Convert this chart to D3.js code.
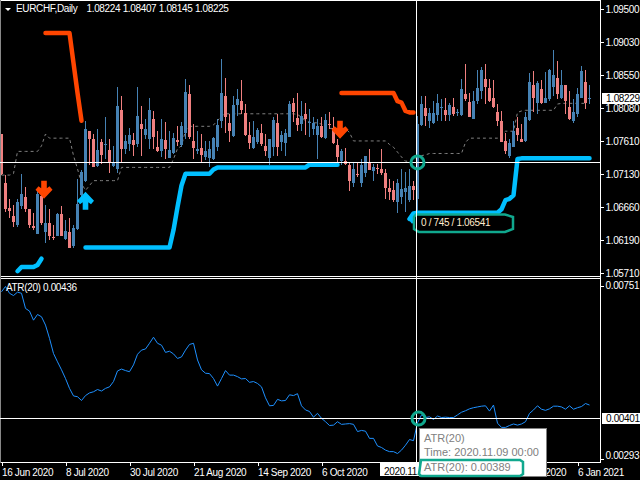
<!DOCTYPE html>
<html><head><meta charset="utf-8">
<script src="https://cdn.jsdelivr.net/npm/d3@7/dist/d3.min.js"></script>
<style>
html,body{margin:0;padding:0;background:#000;overflow:hidden}
svg{display:block}
text{font-family:"Liberation Sans",Arial,sans-serif;font-size:10px;letter-spacing:-0.35px;fill:#fff}
</style></head><body>
<script>
const symbolName="EURCHF,Daily";
const ohlcLegend="1.08224 1.08407 1.08145 1.08225";
const atrLegend="ATR(20) 0.00436";
const highs=[1.0771,1.0712,1.0678,1.0669,1.0678,1.0713,1.0695,1.0664,1.0657,1.0690,
1.0683,1.0669,1.0664,1.0640,1.0657,1.0668,1.0648,1.0650,1.0640,1.0707,
1.0719,1.0790,1.0776,1.0771,1.0778,1.0764,1.0795,1.0764,1.0754,1.0839,
1.0826,1.0769,1.0780,1.0773,1.0839,1.0811,1.0792,1.0822,1.0804,1.0776,
1.0792,1.0788,1.0776,1.0773,1.0783,1.0788,1.0850,1.0841,1.0785,1.0776,
1.0771,1.0761,1.0761,1.0766,1.0792,1.0878,1.0852,1.0799,1.0826,1.0836,
1.0848,1.0814,1.0788,1.0790,1.0780,1.0785,1.0771,1.0764,1.0796,1.0799,
1.0776,1.0778,1.0818,1.0822,1.0830,1.0818,1.0816,1.0807,1.0795,1.0793,
1.0795,1.0799,1.0802,1.0795,1.0764,1.0750,1.0751,1.0731,1.0731,1.0731,
1.0735,1.0740,1.0750,1.0728,1.0728,1.0750,1.0721,1.0707,1.0704,1.0707,
1.0721,1.0716,1.0721,1.0703,1.0797,1.0825,1.0826,1.0809,1.0818,1.0828,
1.0821,1.0823,1.0816,1.0823,1.0807,1.0850,1.0872,1.0830,1.0833,1.0863,
1.0867,1.0872,1.0850,1.0849,1.0814,1.0804,1.0773,1.0764,1.0790,1.0795,
1.0785,1.0802,1.0859,1.0861,1.0847,1.0849,1.0860,1.0864,1.0892,1.0876,
1.0863,1.0842,1.0833,1.0821,1.0837,1.0869,1.0863,1.08407];
const opens=[1.0771,1.0701,1.0665,1.0653,1.0641,1.0668,1.0680,1.0664,1.0639,1.0627,
1.0682,1.0630,1.0643,1.0623,1.0624,1.0656,1.0620,1.0630,1.0610,1.0634,
1.0683,1.0704,1.0775,1.0764,1.0725,1.0760,1.0756,1.0748,1.0725,1.0721,
1.0806,1.0750,1.0756,1.0762,1.0756,1.0785,1.0770,1.0764,1.0793,1.0752,
1.0746,1.0762,1.0737,1.0744,1.0763,1.0755,1.0773,1.0829,1.0761,1.0747,
1.0751,1.0738,1.0736,1.0735,1.0752,1.0790,1.0825,1.0787,1.0768,1.0812,
1.0819,1.0801,1.0770,1.0751,1.0759,1.0772,1.0754,1.0736,1.0752,1.0787,
1.0759,1.0758,1.0767,1.0815,1.0794,1.0785,1.0800,1.0787,1.0778,1.0770,
1.0783,1.0765,1.0785,1.0780,1.0755,1.0732,1.0732,1.0727,1.0701,1.0714,
1.0701,1.0715,1.0731,1.0718,1.0722,1.0721,1.0715,1.0694,1.0690,1.0673,
1.0681,1.0688,1.0676,1.0696,1.0678,1.0784,1.0809,1.0789,1.0787,1.0798,
1.0809,1.0805,1.0798,1.0810,1.0802,1.0798,1.0829,1.0817,1.0793,1.0819,
1.0833,1.0850,1.0837,1.0822,1.0803,1.0790,1.0761,1.0740,1.0753,1.0779,
1.0764,1.0761,1.0791,1.0842,1.0815,1.0835,1.0816,1.0821,1.0839,1.0852,
1.0822,1.0841,1.0810,1.0789,1.0799,1.0823,1.0846,1.08224];
const closes=[1.0714,1.0664,1.0661,1.0644,1.0673,1.0685,1.0664,1.0640,1.0636,1.0685,
1.0643,1.0643,1.0624,1.0621,1.0656,1.0625,1.0632,1.0608,1.0636,1.0670,
1.0717,1.0778,1.0764,1.0724,1.0748,1.0741,1.0757,1.0730,1.0731,1.0811,
1.0750,1.0761,1.0769,1.0755,1.0797,1.0778,1.0778,1.0805,1.0766,1.0746,
1.0764,1.0749,1.0748,1.0765,1.0760,1.0783,1.0831,1.0766,1.0751,1.0750,
1.0741,1.0747,1.0749,1.0765,1.0784,1.0830,1.0796,1.0776,1.0812,1.0821,
1.0805,1.0769,1.0758,1.0767,1.0777,1.0756,1.0746,1.0764,1.0791,1.0752,
1.0770,1.0772,1.0814,1.0802,1.0784,1.0797,1.0792,1.0788,1.0787,1.0782,
1.0766,1.0791,1.0784,1.0758,1.0738,1.0746,1.0728,1.0704,1.0721,1.0713,
1.0726,1.0739,1.0720,1.0723,1.0721,1.0715,1.0693,1.0687,1.0676,1.0701,
1.0692,1.0694,1.0696,1.0690,1.0785,1.0814,1.0797,1.0801,1.0801,1.0816,
1.0810,1.0798,1.0812,1.0799,1.0803,1.0836,1.0821,1.0796,1.0818,1.0837,
1.0863,1.0838,1.0818,1.0810,1.0789,1.0760,1.0746,1.0758,1.0775,1.0770,
1.0760,1.0796,1.0846,1.0822,1.0844,1.0815,1.0823,1.0863,1.0855,1.0828,
1.0841,1.0819,1.0792,1.0802,1.0829,1.0862,1.0816,1.08225];
const lows=[1.0712,1.0659,1.0650,1.0637,1.0638,1.0664,1.0659,1.0636,1.0633,1.0627,
1.0640,1.0614,1.0619,1.0619,1.0624,1.0624,1.0619,1.0608,1.0608,1.0633,
1.0674,1.0702,1.0726,1.0723,1.0723,1.0728,1.0735,1.0715,1.0723,1.0715,
1.0731,1.0742,1.0747,1.0740,1.0752,1.0740,1.0764,1.0750,1.0750,1.0745,
1.0738,1.0735,1.0737,1.0742,1.0754,1.0752,1.0764,1.0764,1.0735,1.0742,
1.0731,1.0733,1.0723,1.0734,1.0747,1.0780,1.0773,1.0760,1.0766,1.0797,
1.0799,1.0768,1.0750,1.0750,1.0757,1.0754,1.0740,1.0726,1.0740,1.0740,
1.0747,1.0740,1.0766,1.0788,1.0776,1.0776,1.0769,1.0766,1.0769,1.0735,
1.0765,1.0764,1.0778,1.0757,1.0731,1.0726,1.0726,1.0689,1.0695,1.0709,
1.0695,1.0709,1.0719,1.0703,1.0714,1.0712,1.0678,1.0676,1.0674,1.0657,
1.0670,1.0659,1.0674,1.0676,1.06541,1.0783,1.0783,1.0780,1.0785,1.0789,
1.0790,1.0790,1.0790,1.0797,1.0797,1.0797,1.0818,1.0795,1.0792,1.0814,
1.0821,1.0814,1.0817,1.0809,1.0782,1.0759,1.0742,1.0736,1.0752,1.0761,
1.0759,1.0759,1.0790,1.0802,1.0799,1.0814,1.0815,1.0818,1.0826,1.0821,
1.0821,1.0799,1.0791,1.0787,1.0796,1.0822,1.0807,1.08145];
const dashedLine=[1.0712,1.0712,1.0712,1.0714,1.0746,1.0746,1.0746,1.0746,1.0746,1.0746,
1.0754,1.0771,1.0765,1.0765,1.0765,1.0765,1.0765,1.0765,1.0740,1.0721,
1.0700,1.0690,1.0697,1.0704,1.0704,1.0704,1.0704,1.0704,1.0704,1.0704,
1.0723,1.0723,1.0723,1.0723,1.0723,1.0723,1.0723,1.0723,1.0723,1.0723,
1.0723,1.0723,1.0723,1.0735,1.0750,1.0754,1.0776,1.0782,1.0782,1.0782,
1.0782,1.0782,1.0782,1.0784,1.0790,1.0797,1.0800,1.0800,1.0800,1.0800,
1.0800,1.0800,1.0800,1.0800,1.0800,1.0800,1.0800,1.0800,1.0800,1.0800,
1.0800,1.0800,1.0800,1.0800,1.0799,1.0795,1.0790,1.0788,1.0787,1.0787,
1.0785,1.0779,1.0779,1.0779,1.0779,1.0779,1.0779,1.0773,1.0761,1.0761,
1.0761,1.0761,1.0761,1.0761,1.0761,1.0761,1.0761,1.0756,1.0752,1.0745,
1.0738,1.0732,1.0732,1.0735,1.0738,1.0740,1.0741,1.0743,1.0743,1.0743,
1.0743,1.0743,1.0743,1.0743,1.0743,1.0743,1.0759,1.0765,1.0765,1.0765,
1.0765,1.0765,1.0765,1.0765,1.0765,1.0770,1.0775,1.0775,1.0775,1.0802,
1.0804,1.0805,1.0805,1.0805,1.0805,1.0805,1.0805,1.0805,1.0805,1.0814,
1.0815,1.0815,1.0815,1.0815,1.0815,1.0815,1.0815];
const blueStop1Start=4;
const blueStop1=[1.0574,1.0580,1.0580,1.0580,1.0580,1.0583,1.0592];
const blueStop2Start=21;
const blueStop2=[1.0608,1.0608,1.0608,1.0608,1.0608,1.0608,1.0608,1.0608,1.0608,1.0608,1.0608,
1.0608,1.0608,1.0608,1.0608,1.0608,1.0608,1.0608,1.0608,1.0608,1.0608,1.0608,
1.0633,1.0666,1.0697,1.0714,1.0714,1.0714,1.0714,1.0714,1.0714,1.0714,1.0720,
1.0723,1.0723,1.0723,1.0723,1.0723,1.0723,1.0723,1.0723,1.0723,1.0723,1.0723,1.0723,
1.0723,1.0723,1.0723,1.0723,1.0723,1.0723,1.0723,1.0723,1.0723,1.0723,1.0723,
1.0727,1.0727,1.0727,1.0727,1.0727,1.0727,1.0727,1.0727];
const blueStop3Start=102;
const blueStop3=[1.0649,1.0657,1.0658,1.0658,1.0658,1.0658,1.0658,1.0658,1.0658,1.0658,1.0658,
1.0658,1.0658,1.0658,1.0658,1.0658,1.0658,1.0658,1.0658,1.0658,1.0658,1.0658,1.0658,
1.0663,1.0676,1.0678,1.0683,1.0735,1.0736,1.0736,1.0736,1.0736,1.0736,1.0736,1.0736,1.0736,
1.0736,1.0736,1.0736,1.0736,1.0736,1.0736,1.0736,1.0736,1.0736,1.0736];
const redStop1Start=11;
const redStop1=[1.0916,1.0916,1.0916,1.0916,1.0916,1.0916,1.0916,1.0873,1.0830,1.0790];
const redStop2Start=85;
const redStop2=[1.0830,1.0830,1.0830,1.0830,1.0830,1.0830,1.0830,1.0830,1.0830,1.0830,1.0830,1.0830,1.0830,1.0830,
1.0818,1.0816,1.0804,1.0802,1.0802];
const downArrowBars=[10,84];
const downArrowPrices=[1.0678,1.0764];
const upArrowBars=[21,104];
const upArrowPrices=[1.0688,1.0660];
const atr=[735,749,731,725,734,731,691,684,660,675,669,647,612,572,550,529,506,480,460,458,
448,461,468,471,477,473,480,484,498,526,531,527,524,542,570,581,584,599,615,599,
594,575,578,571,559,563,581,596,599,555,529,520,519,506,486,506,527,515,515,511,
505,506,496,498,493,484,455,434,435,451,447,448,463,461,466,434,423,419,404,414,
401,392,382,383,392,385,386,387,385,366,369,367,348,348,328,324,317,313,313,308,
317,330,345,342,389,410,403,405,398,407,403,404,403,403,410,417,421,426,429,431,
433,434,420,436,388,377,377,382,386,383,386,392,414,423,434,425,422,426,433,433,
431,425,434,425,429,432,440,436].map(v=>v/100000);
const priceTicks=[1.095,1.0903,1.0855,1.0808,1.0761,1.0713,1.0666,1.0619,1.0571];
const atrTicks=[0.00751,0.00293];
const timeTickBars=[0,16,32,48,64,80,96,112,128,144];
const timeTickLabels=["16 Jun 2020","8 Jul 2020","30 Jul 2020","21 Aug 2020","14 Sep 2020","6 Oct 2020","28 Oct 2020","19 Nov 2020","11 Dec 2020","6 Jan 2021"];
const currentPrice=1.08225, currentPriceText="1.08229";
const crossBar=104, crossPrice=1.07306, crossAtr=0.00401, crossDate="2020.11.09 00:00";
const measureText="0 / 745 / 1.06541";
const tooltipLines=["ATR(20)","Time: 2020.11.09 00:00","ATR(20): 0.00389"];

const W=640,H=480,teal="#10A88E",FONT='"Liberation Sans",Arial,sans-serif';
const axisX=600,mainBottom=276,subTop=279,subBottom=462;
const svg=d3.select("body").append("svg").attr("width",W).attr("height",H);
svg.append("rect").attr("width",W).attr("height",H).attr("fill","#000");
const x=d3.scaleLinear().domain([0,147]).range([1.5,589.5]);
const y=d3.scaleLinear().domain([1.0571,1.095]).range([273.3,9.3]);
const ya=d3.scaleLinear().domain([0.00401,0.00751]).range([418.3,285.7]);
const blue="#4682B4",pink="#F08080";

const defs=svg.append("defs");
defs.append("clipPath").attr("id","cm").append("rect").attr("x",1).attr("y",1).attr("width",axisX-1).attr("height",mainBottom-1);

const main=svg.append("g").attr("clip-path","url(#cm)");
const lineP=d3.line().x(d=>x(d[0])).y(d=>y(d[1]));
main.append("path").attr("d",lineP(dashedLine.map((v,i)=>[i,v]))).attr("fill","none")
 .attr("stroke","#808080").attr("stroke-width",1).attr("stroke-dasharray","3 3");
const cg=main.append("g").attr("shape-rendering","crispEdges");
const px=i=>Math.floor(x(i));
highs.forEach((h,i)=>{
  const o=opens[i],c=closes[i],col=c>=o?blue:pink;
  cg.append("rect").attr("x",px(i)).attr("width",1).attr("y",Math.round(y(h))).attr("height",Math.max(1,Math.round(y(lows[i]))-Math.round(y(h)))).attr("fill",col);
  const t=Math.round(y(Math.max(o,c))),b=Math.round(y(Math.min(o,c)));
  cg.append("rect").attr("x",px(i)-1).attr("width",3).attr("y",t).attr("height",Math.max(1,b-t)).attr("fill",col);
});
function stop(start,vals,col){
  main.append("path").attr("d",lineP(vals.map((v,i)=>[start+i,v]))).attr("fill","none")
   .attr("stroke",col).attr("stroke-width",4.5).attr("stroke-linecap","round").attr("stroke-linejoin","round");
}
stop(blueStop1Start,blueStop1,"#00BFFF");
stop(blueStop2Start,blueStop2,"#00BFFF");
stop(blueStop3Start,blueStop3,"#00BFFF");
stop(redStop1Start,redStop1,"#FF4500");
stop(redStop2Start,redStop2,"#FF4500");
function arrow(bar,price,col,dir,dx){
  const s=dir;
  main.append("path").attr("transform",`translate(${x(bar)+dx},${y(price)})`)
   .attr("d",`M-2.8,${-18*s}L2.8,${-18*s}L2.8,${-10.5*s}L5.5,${-12.5*s}L8.5,${-9*s}L0,0L-8.5,${-9*s}L-5.5,${-12.5*s}L-2.8,${-10.5*s}Z`).attr("fill",col);
}
downArrowBars.forEach((b,i)=>arrow(b,downArrowPrices[i],"#FF4500",1,2.5));
upArrowBars.forEach((b,i)=>arrow(b,upArrowPrices[i],"#00BFFF",-1,0));

const lineA=d3.line().x((d,i)=>x(i)).y(d=>ya(d));
svg.append("path").attr("d",lineA(atr)).attr("fill","none").attr("stroke","#1E90FF").attr("stroke-width",1);

const frame=svg.append("g").attr("shape-rendering","crispEdges").attr("stroke","#fff").attr("fill","none");
[[0.5,0.5,axisX+.5,0.5],[0.5,mainBottom+.5,axisX+.5,mainBottom+.5],[0.5,subTop-.5,axisX+.5,subTop-.5],[0.5,subBottom+.5,axisX+.5,subBottom+.5],[axisX+.5,0,axisX+.5,subBottom+1],[0.5,0,0.5,subBottom+1]].forEach(l=>{
  frame.append("line").attr("x1",l[0]).attr("y1",l[1]).attr("x2",l[2]).attr("y2",l[3]).attr("stroke",l[0]===0.5&&l[2]===0.5?"#888":"#fff");
});

const axP=d3.axisRight(y).tickValues(priceTicks).tickSize(3).tickPadding(2).tickFormat(d=>d3.format(".5f")(d));
const gP=svg.append("g").attr("transform",`translate(${axisX+0.5},0)`).call(axP);
const axA=d3.axisRight(ya).tickValues(atrTicks).tickSize(3).tickPadding(2).tickFormat(d3.format(".5f"));
const gA=svg.append("g").attr("transform",`translate(${axisX+0.5},0)`).call(axA);
[gP,gA].forEach(g=>{g.select(".domain").remove();g.selectAll("line").attr("stroke","#fff").attr("shape-rendering","crispEdges");
  g.selectAll("text").attr("fill","#fff").style("font-size","10px").style("font-family",FONT);});
gA.selectAll(".tick").filter(d=>d===0.00293).select("text").attr("dy","-0.1em");
const xt=d3.scaleOrdinal().domain(timeTickBars).range(timeTickLabels);
const axT=d3.axisBottom(x).tickValues(timeTickBars).tickSize(3).tickPadding(3).tickFormat(d=>xt(d));
const gT=svg.append("g").attr("transform",`translate(0,${subBottom+0.5})`).call(axT);
gT.select(".domain").remove();
gT.selectAll("line").attr("stroke","#fff").attr("shape-rendering","crispEdges");
gT.selectAll("text").attr("text-anchor","start").attr("fill","#fff").style("font-size","10px").style("font-family",FONT);

svg.append("path").attr("d","M5,8L11,8L8,11Z").attr("fill","#fff");
svg.append("text").attr("x",16).attr("y",12).text(symbolName);
svg.append("text").attr("x",86.5).attr("y",12).text(ohlcLegend);
svg.append("text").attr("x",6).attr("y",291).text(atrLegend);

const cy=y(currentPrice);
svg.append("rect").attr("x",602).attr("y",Math.round(cy)-5).attr("width",38).attr("height",11).attr("fill","#fff");
svg.append("text").attr("x",606).attr("y",Math.round(cy)+4).style("fill","#000").text(currentPriceText);

const mp="M416,214.5L505,214.5L513,217L513,229L505,232L419,232L414,229L414,217Z";
svg.append("path").attr("d",mp).attr("fill","#000").attr("stroke",teal).attr("stroke-width",2.5);
svg.append("text").attr("x",421).attr("y",226).style("fill","#FFEBCD").text(measureText);

const chx=x(crossBar)-1;
const cross=svg.append("g").attr("shape-rendering","crispEdges").attr("stroke","#fff");
cross.append("line").attr("x1",chx).attr("x2",chx).attr("y1",0).attr("y2",subBottom);
cross.append("line").attr("x1",0).attr("x2",axisX).attr("y1",Math.round(y(crossPrice))+.5).attr("y2",Math.round(y(crossPrice))+.5);
cross.append("line").attr("x1",0).attr("x2",axisX).attr("y1",Math.round(ya(crossAtr))+.5).attr("y2",Math.round(ya(crossAtr))+.5);
svg.append("circle").attr("cx",chx+1).attr("cy",y(crossPrice)+.3).attr("r",6.5).attr("fill","none").attr("stroke",teal).attr("stroke-width",3);
svg.append("circle").attr("cx",chx+2).attr("cy",ya(crossAtr)+.3).attr("r",6.5).attr("fill","none").attr("stroke",teal).attr("stroke-width",3);
svg.append("rect").attr("x",602).attr("y",Math.round(ya(crossAtr))-5).attr("width",38).attr("height",11).attr("fill","#fff");
svg.append("text").attr("x",606).attr("y",Math.round(ya(crossAtr))+4).style("fill","#000").text(d3.format(".5f")(crossAtr));
svg.append("rect").attr("x",380).attr("y",463).attr("width",80).attr("height",13).attr("fill","#fff");
svg.append("text").attr("x",384).attr("y",475).style("fill","#000").text(crossDate);
svg.append("rect").attr("x",419.5).attr("y",428.5).attr("width",127).attr("height",48).attr("fill","#fff").attr("stroke","#808080").attr("stroke-width",1);
tooltipLines.forEach((t,i)=>svg.append("text").attr("x",424).attr("y",[442,456,471][i]).style("fill","#808080").style("font-size","11px").style("letter-spacing","0").text(t));
svg.append("path").attr("d","M421,460L520,460L523,462L523,474L520,476L421,476L419,474Z").attr("fill","none").attr("stroke",teal).attr("stroke-width",2.5);
</script>
</body></html>
